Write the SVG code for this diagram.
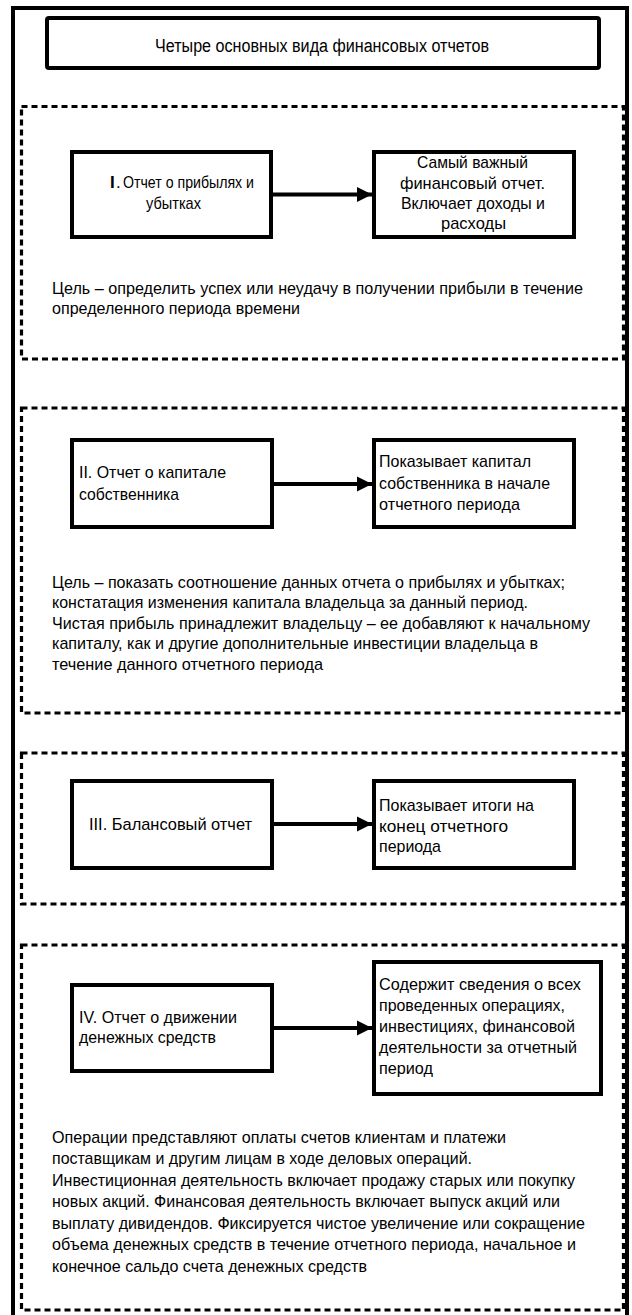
<svg xmlns="http://www.w3.org/2000/svg" width="632" height="1315" viewBox="0 0 632 1315">
<style>
text{font-family:"Liberation Sans Narrow","Liberation Sans",Arial,sans-serif;font-size:17px;fill:#000}
.t{font-size:18px}
.box{fill:#fff;stroke:#000;stroke-width:4}
.dash{fill:none;stroke:#000;stroke-width:3.2;stroke-dasharray:6 4}
.arr{stroke:#000;stroke-width:4;fill:none}
</style>
<defs>
<marker id="ah" markerUnits="userSpaceOnUse" markerWidth="16" markerHeight="16" viewBox="0 0 16 16" refX="15" refY="8" orient="auto">
<path d="M0,0.5 L15,8 L0,15.5 Z" fill="#000"/>
</marker>
</defs>
<rect x="0" y="0" width="632" height="1315" fill="#fff"/>
<rect x="13" y="8" width="614" height="1320" fill="none" stroke="#000" stroke-width="4"/>

<g id="title">
<rect class="box" x="47" y="18" width="552" height="50" rx="2"/>
<text class="t" x="155" y="52" textLength="334" lengthAdjust="spacingAndGlyphs">Четыре основных вида финансовых отчетов</text>
</g>

<g id="section1">
<rect class="dash" x="21.5" y="106.5" width="602" height="252.5"/>
<text x="52" y="294" textLength="531" lengthAdjust="spacingAndGlyphs">Цель – определить успех или неудачу в получении прибыли в течение</text>
<text x="52" y="314" textLength="248" lengthAdjust="spacingAndGlyphs">определенного периода времени</text>
</g>
<g id="n1a">
<rect class="box" x="72" y="152" width="199" height="85"/>
<text x="110" y="188" font-weight="bold">I</text>
<text x="116" y="188">.</text>
<text x="123" y="188" textLength="131" lengthAdjust="spacingAndGlyphs">Отчет о прибылях и</text>
<text x="146" y="209" textLength="55" lengthAdjust="spacingAndGlyphs">убытках</text>
</g>
<g id="n1b">
<rect class="box" x="374" y="152" width="200" height="85"/>
<text x="417" y="168" textLength="111" lengthAdjust="spacingAndGlyphs">Самый важный</text>
<text x="400" y="189" textLength="145" lengthAdjust="spacingAndGlyphs">финансовый отчет.</text>
<text x="401" y="209" textLength="144" lengthAdjust="spacingAndGlyphs">Включает доходы и</text>
<text x="441" y="229" textLength="65" lengthAdjust="spacingAndGlyphs">расходы</text>
</g>

<g id="section2">
<rect class="dash" x="21.5" y="408" width="602" height="305"/>
<text x="52" y="588" textLength="513" lengthAdjust="spacingAndGlyphs">Цель – показать соотношение данных отчета о прибылях и убытках;</text>
<text x="52" y="608" textLength="476" lengthAdjust="spacingAndGlyphs">констатация изменения капитала владельца за данный период.</text>
<text x="52" y="629" textLength="538" lengthAdjust="spacingAndGlyphs">Чистая прибыль принадлежит владельцу – ее добавляют к начальному</text>
<text x="52" y="649" textLength="486" lengthAdjust="spacingAndGlyphs">капиталу, как и другие дополнительные инвестиции владельца в</text>
<text x="52" y="670" textLength="271" lengthAdjust="spacingAndGlyphs">течение данного отчетного периода</text>
</g>
<g id="n2a">
<rect class="box" x="72" y="440" width="200" height="87"/>
<text x="79" y="478" textLength="147" lengthAdjust="spacingAndGlyphs">II. Отчет о капитале</text>
<text x="79" y="500" textLength="100" lengthAdjust="spacingAndGlyphs">собственника</text>
</g>
<g id="n2b">
<rect class="box" x="374" y="440" width="200" height="87"/>
<text x="379" y="467" textLength="152" lengthAdjust="spacingAndGlyphs">Показывает капитал</text>
<text x="379" y="489" textLength="171" lengthAdjust="spacingAndGlyphs">собственника в начале</text>
<text x="379" y="510" textLength="141" lengthAdjust="spacingAndGlyphs">отчетного периода</text>
</g>

<g id="section3">
<rect class="dash" x="21.5" y="753" width="602" height="151"/>
</g>
<g id="n3a">
<rect class="box" x="72" y="781" width="200" height="87"/>
<text x="89" y="830" textLength="163" lengthAdjust="spacingAndGlyphs">III. Балансовый отчет</text>
</g>
<g id="n3b">
<rect class="box" x="374" y="781" width="200" height="87"/>
<text x="379" y="811" textLength="155" lengthAdjust="spacingAndGlyphs">Показывает итоги на</text>
<text x="379" y="832" textLength="129" lengthAdjust="spacingAndGlyphs">конец отчетного</text>
<text x="379" y="852" textLength="62" lengthAdjust="spacingAndGlyphs">периода</text>
</g>

<g id="section4">
<rect class="dash" x="21.5" y="945" width="602" height="365"/>
<text x="52" y="1143" textLength="454" lengthAdjust="spacingAndGlyphs">Операции представляют оплаты счетов клиентам и платежи</text>
<text x="52" y="1164" textLength="420" lengthAdjust="spacingAndGlyphs">поставщикам и другим лицам в ходе деловых операций.</text>
<text x="52" y="1186" textLength="523" lengthAdjust="spacingAndGlyphs">Инвестиционная деятельность включает продажу старых или покупку</text>
<text x="52" y="1207" textLength="508" lengthAdjust="spacingAndGlyphs">новых акций. Финансовая деятельность включает выпуск акций или</text>
<text x="52" y="1229" textLength="533" lengthAdjust="spacingAndGlyphs">выплату дивидендов. Фиксируется чистое увеличение или сокращение</text>
<text x="52" y="1250" textLength="524" lengthAdjust="spacingAndGlyphs">объема денежных средств в течение отчетного периода, начальное и</text>
<text x="52" y="1272" textLength="315" lengthAdjust="spacingAndGlyphs">конечное сальдо счета денежных средств</text>
</g>
<g id="n4a">
<rect class="box" x="72" y="985" width="200" height="86"/>
<text x="79" y="1023" textLength="158" lengthAdjust="spacingAndGlyphs">IV. Отчет о движении</text>
<text x="79" y="1043" textLength="137" lengthAdjust="spacingAndGlyphs">денежных средств</text>
</g>
<g id="n4b">
<rect class="box" x="374" y="962" width="227" height="132"/>
<text x="379" y="990" textLength="202" lengthAdjust="spacingAndGlyphs">Содержит сведения о всех</text>
<text x="379" y="1011" textLength="186" lengthAdjust="spacingAndGlyphs">проведенных операциях,</text>
<text x="379" y="1032" textLength="196" lengthAdjust="spacingAndGlyphs">инвестициях, финансовой</text>
<text x="379" y="1053" textLength="198" lengthAdjust="spacingAndGlyphs">деятельности за отчетный</text>
<text x="379" y="1074" textLength="54" lengthAdjust="spacingAndGlyphs">период</text>
</g>

<g id="connectors">
<line class="arr" x1="273" y1="194.5" x2="372" y2="194.5" marker-end="url(#ah)"/>
<line class="arr" x1="274" y1="484" x2="372" y2="484" marker-end="url(#ah)"/>
<line class="arr" x1="274" y1="824" x2="372" y2="824" marker-end="url(#ah)"/>
<line class="arr" x1="274" y1="1028" x2="372" y2="1028" marker-end="url(#ah)"/>
</g>
</svg>
